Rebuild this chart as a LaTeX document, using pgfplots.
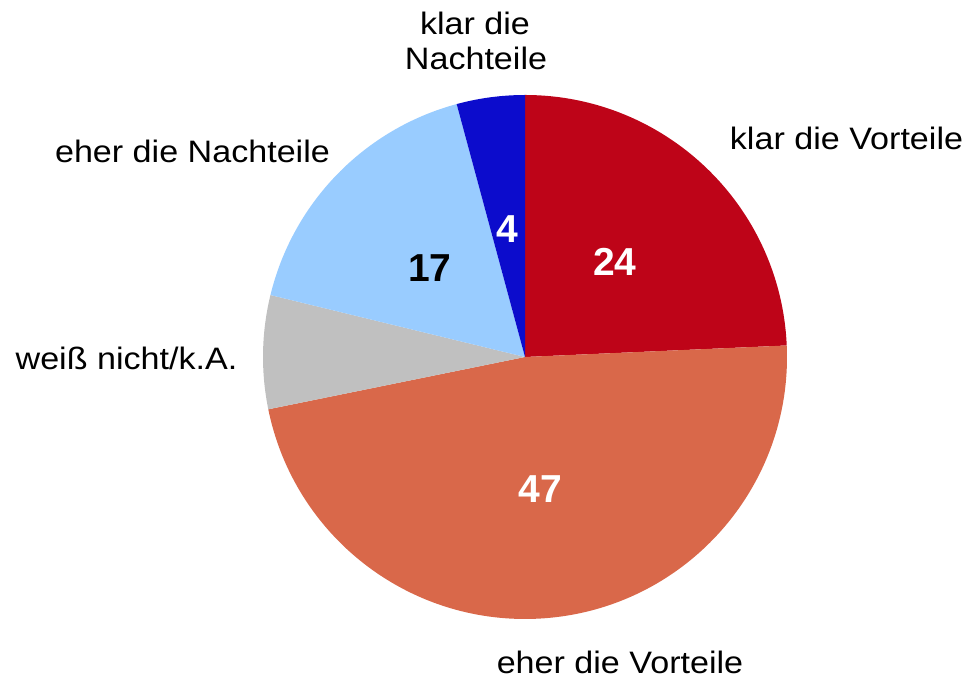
\documentclass[border=0pt]{standalone}
\usepackage{fontspec}
\setmainfont{Liberation Sans}
\usepackage{graphicx}
\usepackage{pgfplots}
\usepackage{pgfplotstable}
\pgfplotsset{compat=1.18}
\definecolor{cRed}{RGB}{190,4,24}
\definecolor{cOrange}{RGB}{217,104,74}
\definecolor{cGray}{RGB}{192,192,192}
\definecolor{cLBlue}{RGB}{153,204,255}
\definecolor{cBlue}{RGB}{12,12,204}
\pgfplotstableread{
value color
24.3 cRed
47.5 cOrange
7.0 cGray
17.0 cLBlue
4.2 cBlue
}\piedata
\newcommand{\lab}[1]{{\fontsize{31}{35}\selectfont\scalebox{1.1}[1]{#1}}}
\newcommand{\num}[1]{{\fontsize{39}{40}\selectfont\bfseries #1}}
\begin{document}
\begin{tikzpicture}
\begin{axis}[x=1pt,y=1pt,xmin=0,xmax=970,ymin=0,ymax=682,hide axis,clip=false]
\xdef\startang{90}
\pgfplotsforeachungrouped \i in {0,...,4}{%
  \pgfplotstablegetelem{\i}{value}\of\piedata
  \let\v\pgfplotsretval
  \pgfplotstablegetelem{\i}{color}\of\piedata
  \let\col\pgfplotsretval
  \pgfmathsetmacro\endang{\startang-3.6*\v}%
  \edef\temp{\noexpand\fill[fill=\col] (axis cs:525,325) -- ++(\startang:262pt) arc[start angle=\startang, end angle=\endang, radius=262pt] -- cycle;}%
  \temp
  \xdef\startang{\endang}%
}
\node[anchor=base,inner sep=0pt] at (axis cs:475,647) {\lab{klar die}};
\node[anchor=base,inner sep=0pt] at (axis cs:476,612) {\lab{Nachteile}};
\node[anchor=base,inner sep=0pt] at (axis cs:846.5,532) {\lab{klar die Vorteile}};
\node[anchor=base,inner sep=0pt] at (axis cs:192.5,519) {\lab{eher die Nachteile}};
\node[anchor=base,inner sep=0pt] at (axis cs:126.5,312) {\lab{weiß nicht/k.A.}};
\node[anchor=base,inner sep=0pt] at (axis cs:620,8) {\lab{eher die Vorteile}};
\node[anchor=base,inner sep=0pt,text=white] at (axis cs:615,406) {\num{24}};
\node[anchor=base,inner sep=0pt,text=white] at (axis cs:540.5,179) {\num{47}};
\node[anchor=base,inner sep=0pt,text=black] at (axis cs:430,400) {\num{17}};
\node[anchor=base,inner sep=0pt,text=white] at (axis cs:507.5,439) {\num{4}};
\end{axis}
\pgfresetboundingbox
\path (0,0) rectangle (970pt,682pt);
\end{tikzpicture}
\end{document}
